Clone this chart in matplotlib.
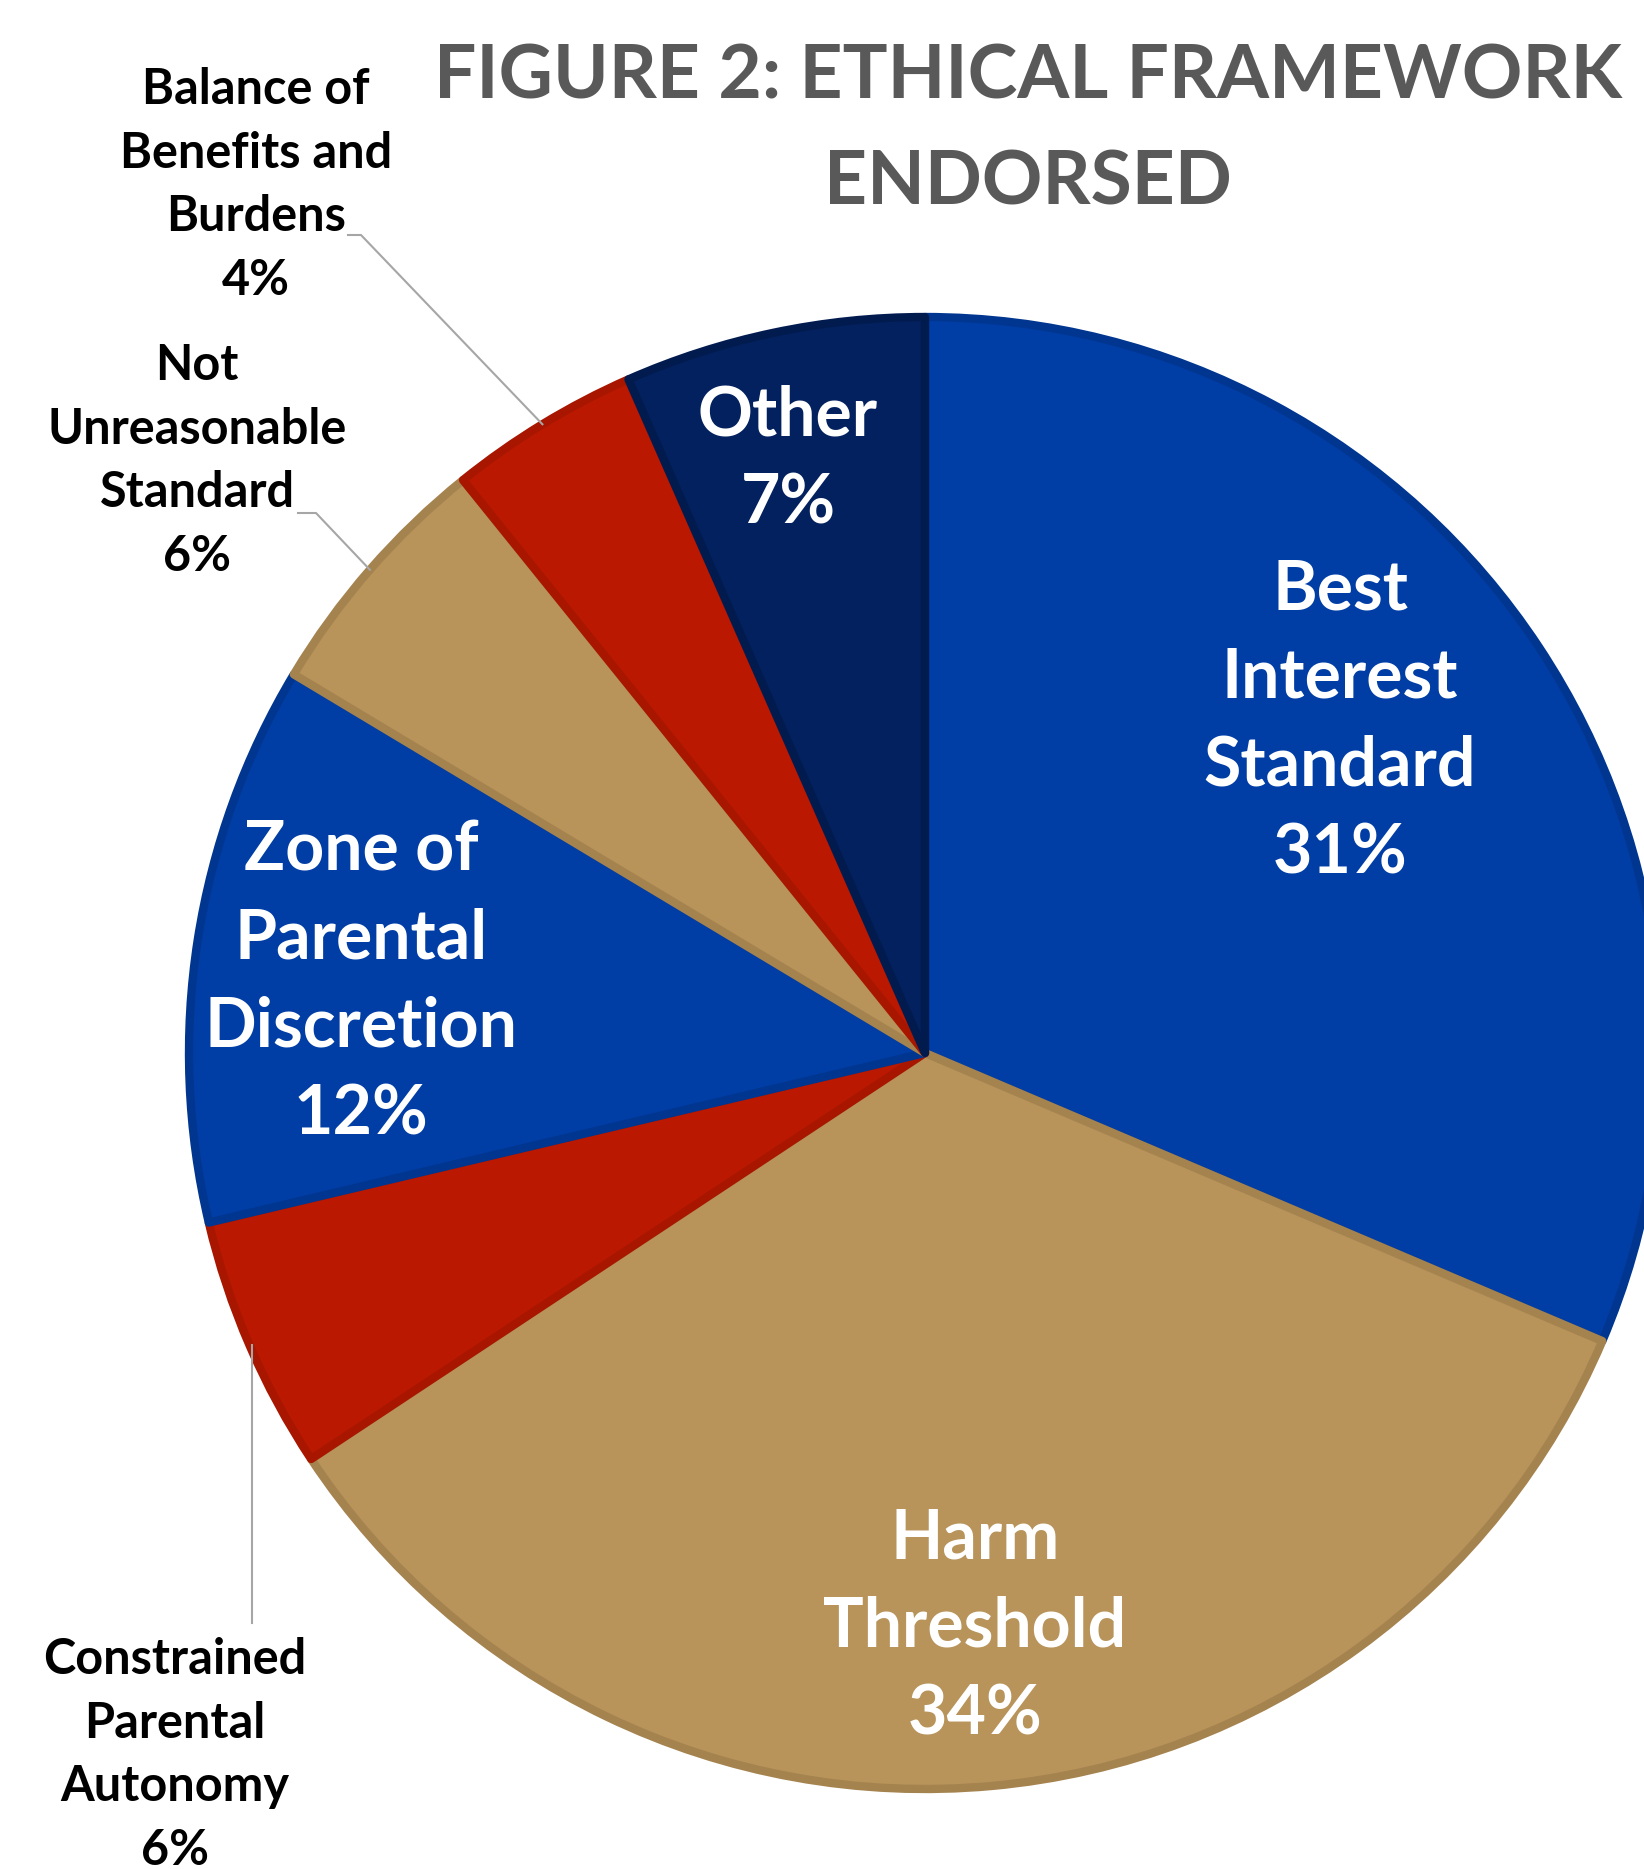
import numpy as np
import matplotlib.pyplot as plt

# data (shares; labels show rounded percent)
labels = ['Best\nInterest\nStandard', 'Harm\nThreshold', 'Constrained\nParental\nAutonomy',
          'Zone of\nParental\nDiscretion', 'Not\nUnreasonable\nStandard',
          'Balance of\nBenefits and\nBurdens', 'Other']
values = [31.4, 34.3, 5.6, 12.3, 5.6, 4.2, 6.6]
colors = ['#003DA5', '#B8935A', '#BA1800', '#003DA5', '#B8935A', '#BA1800', '#03215E']
edges = ['#00368F', '#A5834F', '#A81600', '#00368F', '#A5834F', '#A81600', '#021B4F']

plt.rcParams['font.family'] = ['Lato', 'DejaVu Sans']

W, H = 1644, 1869
fig = plt.figure(figsize=(W / 100, H / 100), dpi=100)
ax = fig.add_axes([0, 0, 1, 1])

cx, cy, r = 925, H - 1053, 736
wedges, _ = ax.pie(values, colors=colors, startangle=90, counterclock=False,
                   center=(cx, cy), radius=r, wedgeprops=dict(linewidth=6))
for w, ec in zip(wedges, edges):
    w.set_edgecolor(ec)
    w.set_joinstyle('round')

ax.set_xlim(0, W)
ax.set_ylim(0, H)
ax.set_aspect('equal')
ax.axis('off')

total = sum(values)
pct = [f'{round(v / total * 100)}%' for v in values]

# labels inside the big slices (x, y from top)
inside = {0: (1340, 722), 1: (975, 1627), 3: (361, 983), 6: (788, 460)}
for i, (x, y) in inside.items():
    ax.text(x, H - y, f'{labels[i]}\n{pct[i]}', ha='center', va='center',
            color='white', fontsize=49, fontweight='bold', linespacing=1.49)

# outside labels with leader lines
outside = {5: (256, 185), 4: (197, 461), 2: (175, 1755)}
for i, (x, y) in outside.items():
    ax.text(x, H - y, f'{labels[i]}\n{pct[i]}', ha='center', va='center',
            color='black', fontsize=35, fontweight='bold', linespacing=1.5)

def edge_point(w):
    a = np.deg2rad((w.theta1 + w.theta2) / 2)
    return cx + r * np.cos(a), cy + r * np.sin(a)

lc = '#A6A6A6'
px, py = edge_point(wedges[5])
ax.plot([348, 361, px], [H - 235, H - 235, py], color=lc, lw=1.5)
px, py = edge_point(wedges[4])
ax.plot([298, 316, px], [H - 513, H - 513, py], color=lc, lw=1.5)
ax.plot([252, 252], [H - 1623, H - 1345], color=lc, lw=1.5)

ax.text(1028, H - 130, 'FIGURE 2: ETHICAL FRAMEWORK\nENDORSED', ha='center', va='center',
        color='#595959', fontsize=54, fontweight='bold', linespacing=1.65)

fig.savefig('out.png', dpi=100)
